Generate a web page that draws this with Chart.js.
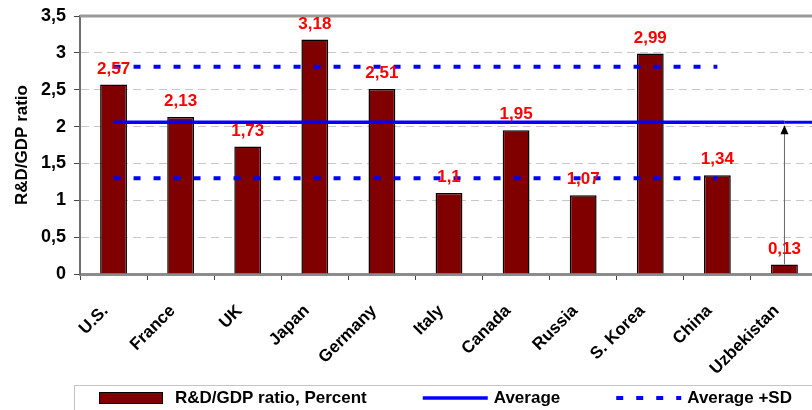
<!DOCTYPE html>
<html>
<head>
<meta charset="utf-8">
<script src="https://cdn.jsdelivr.net/npm/chart.js@4.4.1/dist/chart.umd.min.js"></script>
<style>
  html, body { margin: 0; padding: 0; background: #fff; overflow: hidden; }
  #wrap { width: 818px; height: 410px; }
</style>
</head>
<body>
<div id="wrap"><canvas id="rdChart"></canvas></div>
<script>
// values
const countries = ['U.S.', 'France', 'UK', 'Japan', 'Germany', 'Italy', 'Canada', 'Russia', 'S. Korea', 'China', 'Uzbekistan'];
const rdRatio = [2.57, 2.13, 1.73, 3.18, 2.51, 1.1, 1.95, 1.07, 2.99, 1.34, 0.13];
const averageLine = [2.06, 2.06, 2.06, 2.06, 2.06, 2.06, 2.06, 2.06, 2.06, 2.06, 2.06];
const upperSD = [2.81, 2.81, 2.81, 2.81, 2.81, 2.81, 2.81, 2.81, 2.81, 2.81, null];
const lowerSD = [1.30, 1.30, 1.30, 1.30, 1.30, 1.30, 1.30, 1.30, 1.30, 1.30, null];
const yTicks = [0, 0.5, 1, 1.5, 2, 2.5, 3, 3.5];

const FONT = '"Liberation Sans", Arial, sans-serif';
Chart.defaults.font.family = FONT;
Chart.defaults.color = '#000';

const comma = v => String(v).replace('.', ',');

// red value labels above the bars
const barLabels = {
    id: 'barLabels',
    afterDatasetsDraw(chart) {
        const ctx = chart.ctx;
        const meta = chart.getDatasetMeta(0);
        ctx.save();
        ctx.font = 'bold 17px ' + FONT;
        ctx.fillStyle = '#ff0000';
        ctx.textAlign = 'center';
        ctx.textBaseline = 'bottom';
        meta.data.forEach((bar, i) => {
            ctx.fillText(comma(rdRatio[i]), bar.x, bar.y - 7);
        });
        ctx.restore();
    }
};

// top frame line, average line run-out to the edge, arrow from the last bar
const refLines = {
    id: 'refLines',
    beforeDatasetsDraw(chart) {
        const { ctx, chartArea } = chart;
        ctx.save();
        ctx.strokeStyle = '#9a9a9a';
        ctx.lineWidth = 3;
        ctx.beginPath();
        ctx.moveTo(chartArea.left, chartArea.top);
        ctx.lineTo(chartArea.right, chartArea.top);
        ctx.stroke();
        ctx.restore();
    },
    afterDatasetsDraw(chart) {
        const { ctx, chartArea } = chart;
        const y = chart.scales.y;
        const avgMeta = chart.getDatasetMeta(1);
        const last = avgMeta.data[avgMeta.data.length - 1];
        ctx.save();
        ctx.strokeStyle = '#0000ff';
        ctx.lineWidth = 3;
        ctx.beginPath();
        ctx.moveTo(last.x, last.y);
        ctx.lineTo(chartArea.right, last.y);
        ctx.stroke();

        const bar = chart.getDatasetMeta(0).data[rdRatio.length - 1];
        const tipY = y.getPixelForValue(averageLine[averageLine.length - 1]) + 3;
        ctx.strokeStyle = '#666';
        ctx.lineWidth = 1;
        ctx.beginPath();
        ctx.moveTo(bar.x, bar.y);
        ctx.lineTo(bar.x, tipY + 8);
        ctx.stroke();
        ctx.fillStyle = '#000';
        ctx.beginPath();
        ctx.moveTo(bar.x, tipY);
        ctx.lineTo(bar.x - 4, tipY + 9);
        ctx.lineTo(bar.x + 4, tipY + 9);
        ctx.closePath();
        ctx.fill();
        ctx.restore();
    }
};

// legend along the bottom, inside a thin grey frame
const bottomLegend = {
    id: 'bottomLegend',
    afterDraw(chart) {
        const ctx = chart.ctx;
        const top = chart.chartArea.bottom + 111;
        const cy = top + 13;
        ctx.save();
        ctx.strokeStyle = '#c4c4c4';
        ctx.lineWidth = 1;
        ctx.strokeRect(74.5, top + 0.5, chart.width, 60);
        ctx.font = 'bold 17px ' + FONT;
        ctx.textBaseline = 'middle';
        let x = 99;
        [0, 1, 2].forEach(i => {
            const ds = chart.data.datasets[i];
            let gap;
            if (ds.type === 'line') {
                ctx.strokeStyle = ds.borderColor;
                ctx.lineWidth = ds.borderWidth;
                ctx.setLineDash(ds.borderDash || []);
                ctx.beginPath();
                ctx.moveTo(x, cy);
                ctx.lineTo(x + 65, cy);
                ctx.stroke();
                ctx.setLineDash([]);
                gap = 71;
            } else {
                ctx.fillStyle = ds.backgroundColor;
                ctx.fillRect(x, cy - 6, 64, 12);
                ctx.strokeStyle = '#000';
                ctx.lineWidth = 1;
                ctx.strokeRect(x + 0.5, cy - 5.5, 63, 11);
                gap = 76;
            }
            ctx.fillStyle = '#000';
            ctx.fillText(ds.label, x + gap, cy);
            x += gap + ctx.measureText(ds.label).width + 56;
        });
        ctx.restore();
    }
};

const ctx = document.getElementById('rdChart').getContext('2d');
const rdChart = new Chart(ctx, {
    type: 'bar',
    data: {
        labels: countries,
        datasets: [{
            type: 'bar',
            label: 'R&D/GDP ratio, Percent',
            data: rdRatio,
            backgroundColor: '#800000',
            borderColor: '#000',
            borderWidth: 1.5,
            barPercentage: 0.4,
            categoryPercentage: 1,
            order: 2
        }, {
            type: 'line',
            label: 'Average',
            data: averageLine,
            borderColor: '#0000ff',
            borderWidth: 3.5,
            pointRadius: 0,
            fill: false,
            order: 1
        }, {
            type: 'line',
            label: 'Average +SD',
            data: upperSD,
            borderColor: '#0000ff',
            borderWidth: 4,
            borderDash: [7, 13],
            pointRadius: 0,
            fill: false,
            order: 1
        }, {
            type: 'line',
            label: '',
            data: lowerSD,
            borderColor: '#0000ff',
            borderWidth: 4,
            borderDash: [7, 13],
            pointRadius: 0,
            fill: false,
            order: 1
        }]
    },
    options: {
        responsive: true,
        maintainAspectRatio: false,
        animation: false,
        layout: { padding: { top: 16, bottom: 25, left: 0, right: 0 } },
        plugins: {
            legend: { display: false },
            tooltip: { enabled: false }
        },
        scales: {
            x: {
                afterFit: s => { s.height = 111; s.paddingLeft = 0; s.paddingRight = 0; },
                grid: {
                    offset: true,
                    drawOnChartArea: false,
                    drawTicks: true,
                    tickLength: 6,
                    tickColor: '#444'
                },
                border: { color: '#8c8c8c', width: 3 },
                ticks: {
                    autoSkip: false,
                    minRotation: 45,
                    maxRotation: 45,
                    padding: 21,
                    labelOffset: -8,
                    font: { size: 17, weight: 'bold' }
                }
            },
            y: {
                min: 0,
                max: 3.5,
                afterFit: s => { s.width = 80; s.paddingTop = 0; s.paddingBottom = 0; },
                afterBuildTicks: s => { s.ticks = yTicks.map(v => ({ value: v })); },
                grid: {
                    color: '#c8c8c8',
                    lineWidth: 1,
                    tickLength: 6,
                    tickColor: '#444'
                },
                border: { color: '#6e6e6e', width: 2, dash: [8, 5] },
                ticks: {
                    padding: 8,
                    callback: v => comma(v),
                    font: { size: 18, weight: 'bold' }
                },
                title: {
                    display: true,
                    text: 'R&D/GDP ratio',
                    font: { size: 17, weight: 'bold' },
                    padding: { top: 12, bottom: 0 }
                }
            }
        }
    },
    plugins: [refLines, barLabels, bottomLegend]
});
</script>
</body>
</html>
